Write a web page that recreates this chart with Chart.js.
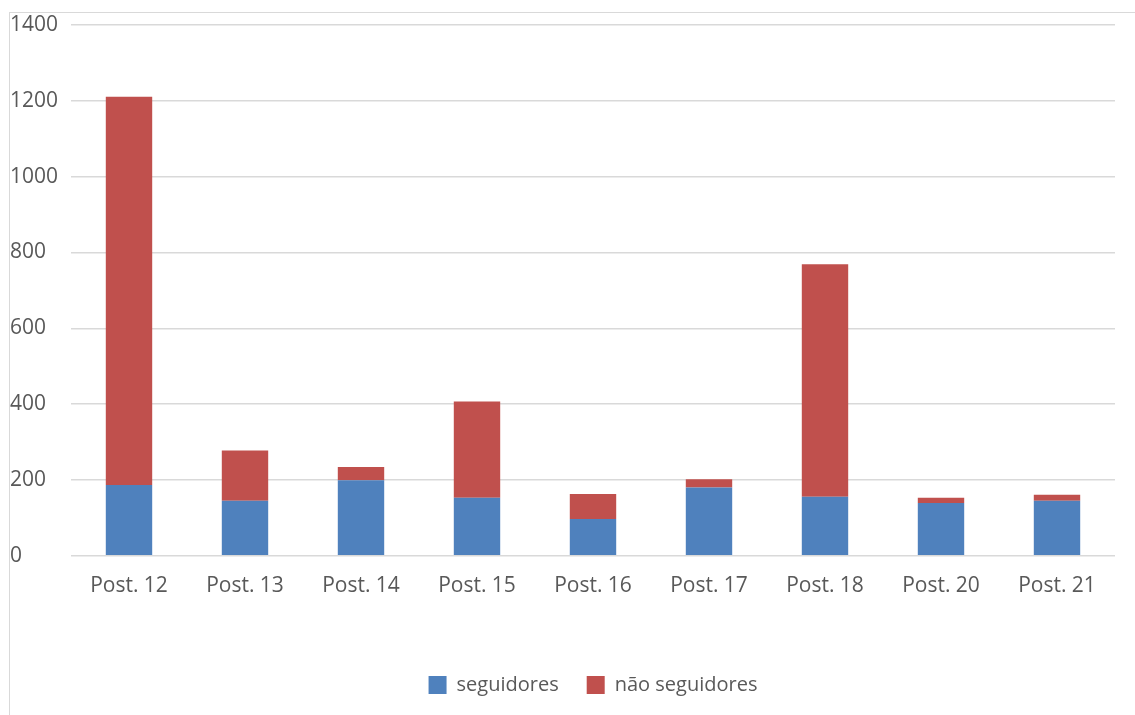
<!DOCTYPE html>
<html>
<head>
<meta charset="utf-8">
<script src="https://cdn.jsdelivr.net/npm/chart.js@4.4.1/dist/chart.umd.min.js"></script>
<style>
  html, body { margin: 0; padding: 0; background: #fff; }
  #wrap {
    position: absolute; left: 9px; top: 12px;
    width: 1126px; height: 703px;
    border-left: 1px solid #d9d9d9; border-top: 1px solid #d9d9d9;
  }
</style>
</head>
<body>
<div id="wrap"><canvas id="chart" width="1126" height="703"></canvas></div>
<script>
// Dados
const categorias = ['Post. 12', 'Post. 13', 'Post. 14', 'Post. 15', 'Post. 16', 'Post. 17', 'Post. 18', 'Post. 20', 'Post. 21'];
const seguidores = [187, 145, 199, 153, 97, 180, 156, 139, 145];
const naoSeguidores = [1024, 133, 35, 254, 66, 22, 613, 14, 16];
const ticksY = [0, 200, 400, 600, 800, 1000, 1200, 1400];

const fonte = "'Open Sans', 'Noto Sans', sans-serif";
const cinza = '#595959';

const ctx = document.getElementById('chart').getContext('2d');
new Chart(ctx, {
    type: 'bar',
    data: {
        labels: categorias,
        datasets: [{
            label: 'seguidores',
            data: seguidores,
            backgroundColor: '#4f81bd',
            borderWidth: 0
        }, {
            label: 'não seguidores',
            data: naoSeguidores,
            backgroundColor: '#c0504d',
            borderWidth: 0
        }]
    },
    options: {
        responsive: false,
        animation: false,
        barPercentage: 0.4,
        categoryPercentage: 1,
        layout: { padding: { top: 0, right: 21, left: 0, bottom: 11 } },
        plugins: {
            tooltip: { enabled: false },
            legend: {
                position: 'bottom',
                fullSize: false,
                labels: {
                    boxWidth: 18, boxHeight: 18,
                    color: cinza,
                    font: { family: fonte, size: 20 },
                    padding: 28
                }
            }
        },
        scales: {
            x: {
                stacked: true,
                grid: { display: false, drawTicks: false },
                border: { display: false },
                ticks: { color: cinza, font: { family: fonte, size: 21 }, padding: 18 },
                afterFit: (axis) => { axis.height += 30; }
            },
            y: {
                stacked: true,
                min: 0, max: 1400,
                afterBuildTicks: (axis) => { axis.ticks = ticksY.map(v => ({ value: v })); },
                grid: { color: '#d9d9d9', lineWidth: 1.5, drawTicks: false },
                border: { display: false },
                ticks: {
                    color: cinza, font: { family: fonte, size: 21 },
                    crossAlign: 'far', padding: 14,
                    callback: (v) => String(v)
                },
                afterFit: (axis) => { axis.width = 61; axis.paddingTop = 12; }
            }
        }
    }
});
</script>
</body>
</html>
